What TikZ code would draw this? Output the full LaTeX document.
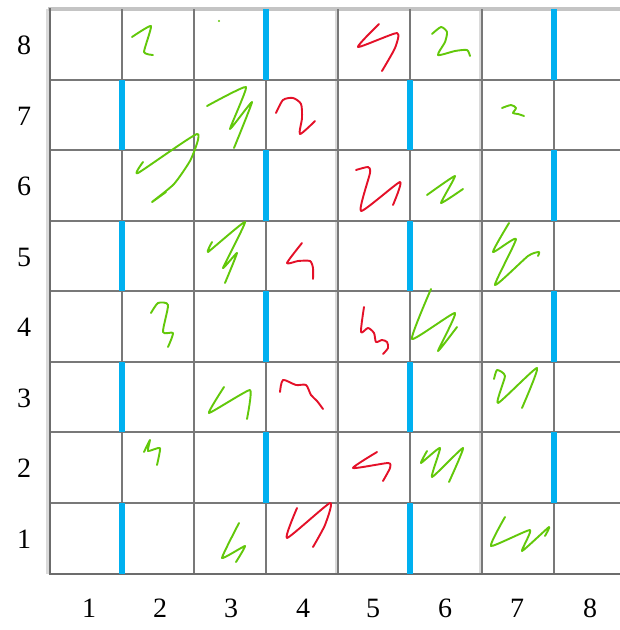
\documentclass[tikz,border=0pt]{standalone}
\usepackage{fontspec}
\setmainfont{Liberation Serif}
\definecolor{barblue}{RGB}{0,176,240}
\definecolor{inkgreen}{RGB}{98,200,10}
\definecolor{inkred}{RGB}{228,16,40}
\definecolor{gridgray}{RGB}{120,120,120}
\definecolor{bandgray}{RGB}{218,218,218}
\tikzset{
  gridline/.style={draw=gridgray, line width=1.4pt},
  borderline/.style={draw=gridgray!90!black, line width=2.6pt},
  bluebar/.style={fill=barblue},
  gstroke/.style={draw=inkgreen, line width=1.9pt, line cap=round, line join=round},
  rstroke/.style={draw=inkred, line width=1.9pt, line cap=round, line join=round},
  numlabel/.style={font=\fontsize{28}{30}\selectfont, inner sep=0pt, text=black}
}
\begin{document}
\begin{tikzpicture}[x=1pt,y=-1pt]
\useasboundingbox (0,0) rectangle (620,630);
\fill[white] (0,0) rectangle (620,630);
% light bands
\fill[bandgray] (334.5,9) rectangle (339,574);
\fill[bandgray] (478.5,9) rectangle (483,574);
\fill[bandgray] (46,9) rectangle (50,574);
% top border
\draw[draw=bandgray!90!black, line width=4.5pt] (48,9) -- (620,9);
% horizontal lines
\foreach \y in {80,150,221,291,362,432,503}
  \draw[gridline] (50,\y) -- (620,\y);
% vertical lines
\foreach \x in {122,194,266,338,410,482,554}
  \draw[gridline] (\x,9) -- (\x,574);
\draw[gridline, line width=1.9pt] (194,9) -- (194,574);
% borders
\draw[borderline] (50,8) -- (50,575);
\draw[borderline] (49,574) -- (620,574);
% blue bars
\foreach \xa/\xb/\ya/\yb in {266/554/9/80, 122/410/80/150, 266/554/150/221, 122/410/221/291, 266/554/291/362, 122/410/362/432, 266/554/432/503, 122/410/503/574}{
  \fill[bluebar] (\xa-3.3,\ya) rectangle (\xa+3.3,\yb);
  \fill[bluebar] (\xb-3.3,\ya) rectangle (\xb+3.3,\yb);
}
% row labels
\node[numlabel] (r8) at (24,45) {8};
\node[numlabel] (r7) at (24,116) {7};
\node[numlabel] (r6) at (24,186) {6};
\node[numlabel] (r5) at (24,257) {5};
\node[numlabel] (r4) at (24,327) {4};
\node[numlabel] (r3) at (24,398) {3};
\node[numlabel] (r2) at (24,468) {2};
\node[numlabel] (r1) at (24,539) {1};
% column labels
\node[numlabel] (c1) at (89,608) {1};
\node[numlabel] (c2) at (160,608) {2};
\node[numlabel] (c3) at (231,608) {3};
\node[numlabel] (c4) at (303,608) {4};
\node[numlabel] (c5) at (373,608) {5};
\node[numlabel] (c6) at (445,608) {6};
\node[numlabel] (c7) at (517,608) {7};
\node[numlabel] (c8) at (590,608) {8};
% green strokes
\draw[gstroke] plot[smooth, tension=0.3] coordinates {(132,37) (151,26) (144,52) (153,55)};
\fill[inkgreen] (219,21) circle (1.1);
\draw[gstroke] plot[smooth, tension=0.25] coordinates {(207,106) (246,87) (230,129) (252,102) (234,148)};
\draw[gstroke] plot[smooth, tension=0.35] coordinates {(143,162) (138,173) (197,134) (191,159) (174,184) (152,202) (166,192)};
\draw[gstroke] plot[smooth, tension=0.25] coordinates {(212,242) (208,252) (245,222) (223,268) (237,253) (225,283)};
\draw[gstroke] plot[smooth, tension=0.4] coordinates {(432,34) (441,27) (447,32) (445,42) (438,55) (455,51) (467,50) (470,56)};
\draw[gstroke] plot[smooth, tension=0.45] coordinates {(502,108) (511,105) (516,108) (513,113) (518,114) (524,116)};
\draw[gstroke] plot[smooth, tension=0.25] coordinates {(427,195) (455,176) (441,203) (463,189)};
\draw[gstroke] plot[smooth, tension=0.35] coordinates {(509,223) (493,252) (516,239) (495,285) (528,256) (539,252) (538,256)};
\draw[gstroke] plot[smooth, tension=0.4] coordinates {(151,313) (158,303) (168,305) (163,332) (173,333) (168,347)};
\draw[gstroke] plot[smooth, tension=0.25] coordinates {(224,387) (209,413) (250,390) (247,419)};
\draw[gstroke] plot[smooth, tension=0.3] coordinates {(431,289) (412,339) (455,313) (438,351) (457,327)};
\draw[gstroke] plot[smooth, tension=0.35] coordinates {(494,379) (497,370) (505,376) (498,403) (537,368) (522,408)};
\draw[gstroke] plot[smooth, tension=0.3] coordinates {(144,452) (150,440) (148,451) (160,448) (157,465)};
\draw[gstroke] plot[smooth, tension=0.25] coordinates {(239,523) (222,558) (245,546) (236,562)};
\draw[gstroke] plot[smooth, tension=0.3] coordinates {(427,451) (421,463) (440,448) (432,477) (463,448) (449,482)};
\draw[gstroke] plot[smooth, tension=0.3] coordinates {(505,517) (491,546) (530,530) (522,551) (549,527) (545,536)};
% red strokes
\draw[rstroke] plot[smooth, tension=0.45] coordinates {(276,113) (283,100) (293,98) (301,104) (302,118) (300,134) (315,121)};
\draw[rstroke] plot[smooth, tension=0.4] coordinates {(302,243) (287,263) (298,261) (310,261) (313,268) (313,279)};
\draw[rstroke] plot[smooth, tension=0.35] coordinates {(379,24) (358,47) (397,33) (395,48) (382,71)};
\draw[rstroke] plot[smooth, tension=0.35] coordinates {(356,170) (368,167) (370,173) (361,211) (400,182) (393,205)};
\draw[rstroke] plot[smooth, tension=0.45] coordinates {(280,392) (283,380) (296,385) (306,385) (311,395) (317,401) (323,409)};
\draw[rstroke] plot[smooth, tension=0.45] coordinates {(364,307) (361,332) (368,328) (374,333) (376,342) (382,340) (387,342) (388,348) (383,354)};
\draw[rstroke] plot[smooth, tension=0.35] coordinates {(297,508) (287,538) (330,503) (325,525) (313,547)};
\draw[rstroke] plot[smooth, tension=0.35] coordinates {(377,452) (353,468) (388,463) (390,468) (383,481)};
\end{tikzpicture}
\end{document}
